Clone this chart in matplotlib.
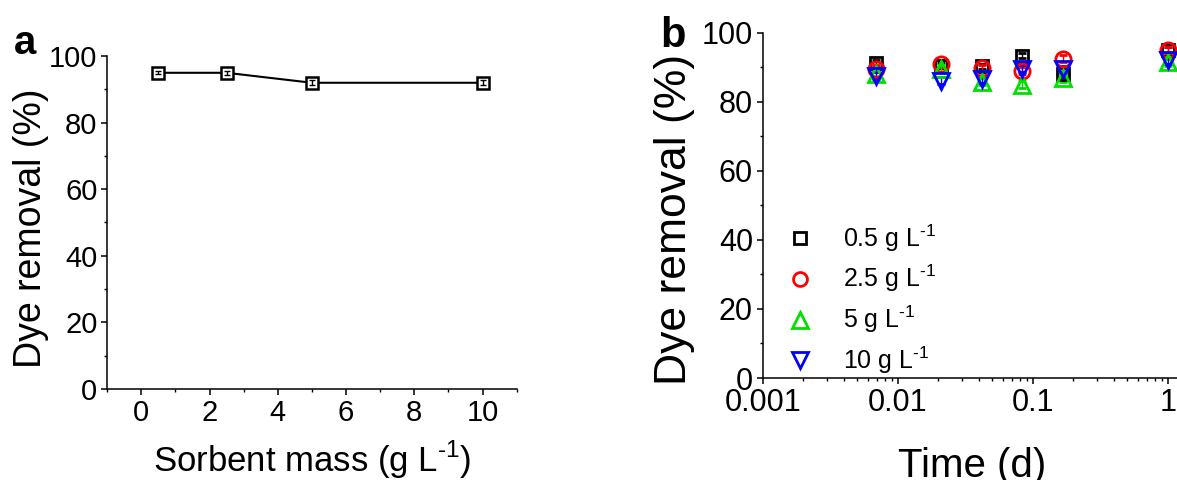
import numpy as np
import matplotlib.pyplot as plt
from matplotlib.lines import Line2D
from matplotlib.ticker import MultipleLocator, LogLocator, NullFormatter

plt.rcParams['font.family'] = ['Liberation Sans', 'DejaVu Sans']
plt.rcParams['mathtext.fontset'] = 'custom'
plt.rcParams['mathtext.rm'] = 'Liberation Sans'

# Panel a: removal vs sorbent mass
mass = [0.5, 2.5, 5, 10]
removal_mass = [95, 95, 92, 92]
removal_mass_err = [0.4, 0.6, 0.8, 0.8]

# Panel b: removal vs time, one series per sorbent dose
time_d = [0.00694, 0.0208, 0.0417, 0.0833, 0.167, 1.0]
rem_05 = [91.2, 90.5, 90.3, 93.4, 88.0, 95.0]
rem_25 = [89.6, 91.0, 89.7, 89.0, 92.5, 95.0]
rem_5 = [88.0, 89.6, 85.8, 85.0, 86.9, 91.5]
rem_10 = [87.6, 86.2, 86.5, 89.6, 89.4, 92.0]
err_05 = [0.8, 0.8, 0.8, 0.8, 0.8, 0.8]
err_25 = [1.0, 1.0, 1.0, 1.0, 1.0, 1.0]
err_5 = [1.0, 1.0, 1.0, 1.0, 1.0, 1.0]
err_10 = [1.0, 1.0, 1.0, 1.0, 1.0, 1.0]
sup = r'$^{\text{-1}}$'
series_labels = ['0.5 g L' + sup, '2.5 g L' + sup, '5 g L' + sup, '10 g L' + sup]

fig = plt.figure(figsize=(11.77, 4.8), dpi=100)


def style_axes(ax, tick_size):
    for s in ['top', 'right']:
        ax.spines[s].set_visible(False)
    for s in ['left', 'bottom']:
        ax.spines[s].set_linewidth(1.1)
    ax.tick_params(which='major', direction='out', length=4, width=1.1,
                   labelsize=tick_size, pad=3)
    ax.tick_params(which='minor', direction='out', length=2.5, width=1.0)


# --- panel a ---
ax1 = fig.add_axes([0.091, 0.19, 0.348, 0.693])
ax1.plot(mass, removal_mass, color='black', lw=1.5, zorder=2)
ax1.plot(mass, removal_mass, ls='none', marker='s', ms=9, mfc='white',
         mec='black', mew=1.8, zorder=3)
ax1.errorbar(mass, removal_mass, yerr=removal_mass_err, fmt='none',
             ecolor='black', elinewidth=1, capsize=2, zorder=4)
ax1.set_xlim(-1, 11)
ax1.set_ylim(0, 100)
ax1.xaxis.set_major_locator(MultipleLocator(2))
ax1.xaxis.set_minor_locator(MultipleLocator(1))
ax1.yaxis.set_major_locator(MultipleLocator(20))
ax1.yaxis.set_minor_locator(MultipleLocator(10))
style_axes(ax1, 21)
ax1.set_xlabel('Sorbent mass (g L' + sup + ')', fontsize=25, labelpad=9)
ax1.set_ylabel('Dye removal (%)', fontsize=27)
ax1.yaxis.set_label_coords(-0.142, 0.483)
fig.text(0.012, 0.91, 'a', fontsize=29, fontweight='bold', va='center')

# --- panel b ---
ax2 = fig.add_axes([0.648, 0.2125, 0.459, 0.719])
colors = ['black', 'red', '#00e000', 'blue']
markers = ['s', 'o', '^', 'v']
sizes = [9, 11, 12, 12]
handles = []
for vals, errs, c, m, sz, lab in zip([rem_05, rem_25, rem_5, rem_10],
                                      [err_05, err_25, err_5, err_10],
                                      colors, markers, sizes, series_labels):
    ax2.errorbar(time_d, vals, yerr=errs, ls='none', marker=m, ms=sz,
                 mfc='none', mec=c, mew=2, ecolor=c, elinewidth=1,
                 capsize=3)
    handles.append(Line2D([], [], ls='none', marker=m, ms=sz - 1, mfc='none',
                          mec=c, mew=2, label=lab))
ax2.set_xscale('log')
ax2.set_xlim(0.001, 10)
ax2.set_ylim(0, 100)
ax2.xaxis.set_minor_locator(LogLocator(base=10, subs=np.arange(2, 10)))
ax2.xaxis.set_minor_formatter(NullFormatter())
ax2.set_xticks([0.001, 0.01, 0.1, 1, 10])
ax2.set_xticklabels(['0.001', '0.01', '0.1', '1', '10'])
ax2.yaxis.set_major_locator(MultipleLocator(20))
ax2.yaxis.set_minor_locator(MultipleLocator(10))
style_axes(ax2, 22)
ax2.set_xlabel('Time (d)', fontsize=29)
ax2.xaxis.set_label_coords(0.387, -0.2)
ax2.set_ylabel('Dye removal (%)', fontsize=32)
ax2.yaxis.set_label_coords(-0.125, 0.46)
ax2.legend(handles=handles, loc='lower left', bbox_to_anchor=(0.005, -0.06),
           frameon=False, fontsize=18, handletextpad=1.2, labelspacing=0.38,
           handlelength=1.0)
fig.text(0.561, 0.925, 'b', fontsize=30, fontweight='bold', va='center')

fig.savefig('out.png', dpi=100)
